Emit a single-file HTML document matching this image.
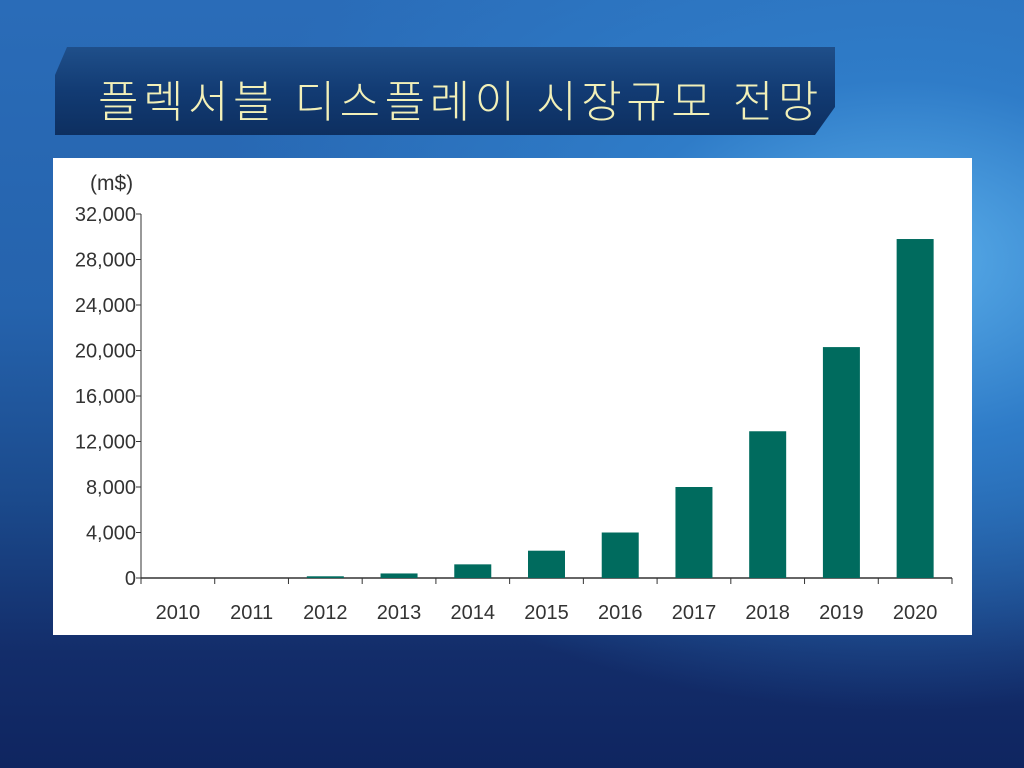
<!DOCTYPE html>
<html><head><meta charset="utf-8"><style>
body{margin:0;width:1024px;height:768px;overflow:hidden;font-family:"Liberation Sans","Noto Sans CJK KR",sans-serif;
background:radial-gradient(ellipse 700px 450px at 900px 260px,#5aaeea 0%,#2f7cc8 40%,rgba(30,80,160,0) 100%),linear-gradient(180deg,#2a6cb8 0%,#2563ad 40%,#1b4a8c 65%,#132d6a 85%,#0f2560 100%);position:relative}
#banner{position:absolute;left:55px;top:47px;width:780px;height:88px;background:linear-gradient(180deg,#1f4f8a 0%,#123b73 50%,#0d2f60 100%);clip-path:polygon(12px 0,780px 0,780px 60px,760px 88px,0 88px,0 28px);box-shadow:0 0 6px rgba(0,0,0,.4)}
#title{position:absolute;left:98px;top:66px;font-size:44px;font-weight:300;color:#f2f0b8;letter-spacing:4.5px;white-space:nowrap}
#panel{position:absolute;left:53px;top:158px;width:919px;height:477px;background:#fff}
</style></head><body>
<div id="banner"></div>
<div id="title">플렉서블 디스플레이 시장규모 전망</div>
<div id="panel"></div>
<svg id="chart" width="1024" height="768" style="position:absolute;left:0;top:0"></svg>
<script>
const categories=["2010","2011","2012","2013","2014","2015","2016","2017","2018","2019","2020"];
const values=[0,0,150,400,1200,2400,4000,8000,12900,20300,29800];
const yTicks=[0,4000,8000,12000,16000,20000,24000,28000,32000];
const yTickLabels=["0","4,000","8,000","12,000","16,000","20,000","24,000","28,000","32,000"];
const svg=document.getElementById('chart');const NS="http://www.w3.org/2000/svg";
const x0=141,x1=952,yBase=578,yTop=214,yMax=32000;
const y=v=>yBase-(v/yMax)*(yBase-yTop);
const bw=(x1-x0)/categories.length;
function mk(t,a){const e=document.createElementNS(NS,t);for(const k in a)e.setAttribute(k,a[k]);svg.appendChild(e);return e;}
const ya=mk('line',{x1:x0,y1:yTop,x2:x0,y2:yBase,stroke:'#333','stroke-width':1});


const xa=mk('line',{x1:x0,y1:yBase,x2:x1,y2:yBase,stroke:'#333','stroke-width':1.5});


yTicks.forEach((v,i)=>{
 const tk=mk('line',{x1:x0-5,y1:y(v),x2:x0,y2:y(v),stroke:'#333'});
 
 
 const t=mk('text',{x:x0-5,y:y(v)+7,'text-anchor':'end','font-size':20,fill:'#333','font-family':'Liberation Sans,sans-serif'});
 t.textContent=yTickLabels[i];
 
 
});
for(let i=0;i<=categories.length;i++){
 const xx=x0+i*bw;
 const tk=mk('line',{x1:xx,y1:yBase,x2:xx,y2:yBase+6,stroke:'#333'});
 
 
}
categories.forEach((c,i)=>{
 const cx=x0+(i+0.5)*bw;
 const t=mk('text',{x:cx,y:619,'text-anchor':'middle','font-size':20,fill:'#333','font-family':'Liberation Sans,sans-serif'});
 t.textContent=c;
 
 
 if(values[i]>0){
  const r=mk('rect',{x:cx-18.5,y:y(values[i]),width:37,height:yBase-y(values[i]),fill:'#006b5e'});
  
  
 }
});
const u=mk('text',{x:90,y:190,'font-size':21,fill:'#333','font-family':'Liberation Sans,sans-serif'});
u.textContent='(m$)';


</script>
</body></html>
